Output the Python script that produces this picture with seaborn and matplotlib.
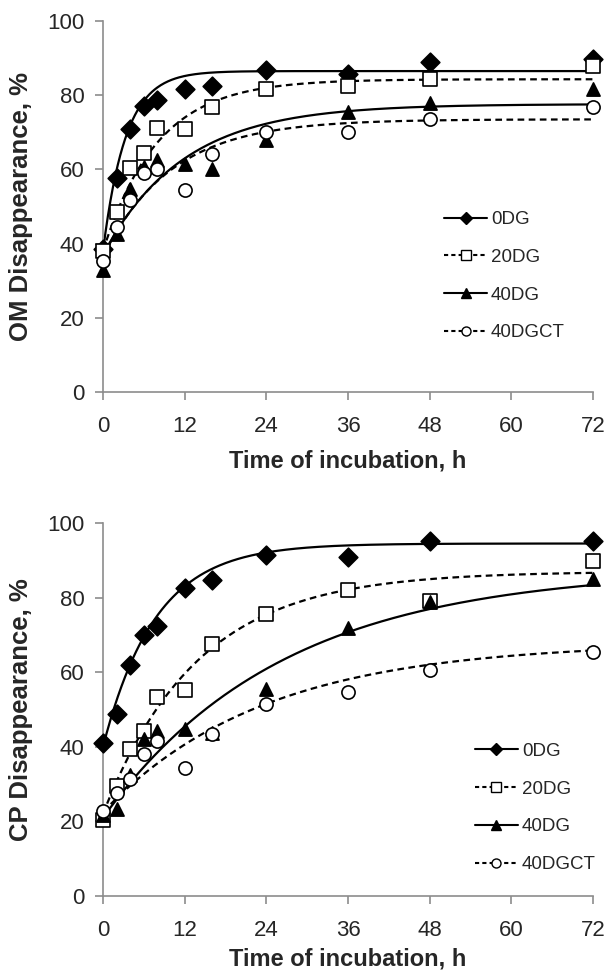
import numpy as np
import pandas as pd
import seaborn as sns
import matplotlib
matplotlib.use("Agg")
from matplotlib import pyplot as plt
from matplotlib.lines import Line2D

sns.set_style("white")
plt.rcParams["font.family"] = ["Liberation Sans", "DejaVu Sans"]

hours = [0, 2, 4, 6, 8, 12, 16, 24, 36, 48, 72]
groups = ["0DG", "20DG", "40DG", "40DGCT"]

# OM disappearance, %
om_0dg = [38.5, 57.7, 71.0, 77.0, 78.6, 81.8, 82.4, 86.7, 85.6, 89.0, 89.8]
om_20dg = [38.0, 48.5, 60.3, 64.4, 71.2, 71.0, 76.8, 81.7, 82.6, 84.3, 87.8]
om_40dg = [33.0, 42.5, 54.8, 60.6, 62.6, 61.4, 60.0, 68.0, 75.6, 78.0, 81.7]
om_40dgct = [35.3, 44.5, 51.7, 59.0, 60.0, 54.5, 64.2, 70.2, 70.0, 73.7, 76.8]

# CP disappearance, %
cp_0dg = [41.1, 48.7, 62.0, 70.0, 72.3, 82.5, 84.8, 91.4, 91.0, 95.2, 95.2]
cp_20dg = [20.4, 29.5, 39.5, 44.2, 53.4, 55.2, 67.6, 75.6, 82.1, 79.2, 89.9]
cp_40dg = [21.7, 23.4, 32.4, 42.2, 44.2, 44.8, 43.6, 55.5, 71.8, 78.7, 84.9]
cp_40dgct = [22.8, 27.7, 31.3, 38.0, 41.5, 34.4, 43.3, 51.6, 54.6, 60.5, 65.3]

# fitted curve parameters p = a + b(1 - exp(-c t))
om_a = [38.0, 38.0, 37.0, 36.5]
om_b = [48.5, 46.3, 40.6, 37.0]
om_c = [0.30, 0.125, 0.085, 0.10]
cp_a = [40.0, 22.0, 21.0, 22.5]
cp_b = [54.5, 65.0, 66.7, 45.5]
cp_c = [0.13, 0.072, 0.038, 0.0423]

markers = ["D", "s", "^", "o"]
fills = ["black", "white", "black", "white"]
styles = ["-", (0, (3, 2)), "-", (0, (3, 2))]

W, H = 608, 976
fig = plt.figure(figsize=(W / 100, H / 100), dpi=100)
ax1 = fig.add_axes([103 / W, (H - 392) / H, 490 / W, 371 / H])
ax2 = fig.add_axes([103 / W, (H - 896) / H, 490 / W, 373 / H])

t_fit = np.linspace(0, 72, 400)


def draw(ax, series, a, b, c, ylabel, leg_xy):
    for i, g in enumerate(groups):
        fit = pd.DataFrame({"t": t_fit, "y": a[i] + b[i] * (1 - np.exp(-c[i] * t_fit))})
        sns.lineplot(data=fit, x="t", y="y", ax=ax, color="black", lw=1.6,
                     linestyle=styles[i], clip_on=False, zorder=2)
    for i, g in enumerate(groups):
        pts = pd.DataFrame({"t": hours, "y": series[i]})
        sns.scatterplot(data=pts, x="t", y="y", ax=ax, marker=markers[i], s=90,
                        color=fills[i], edgecolor="black", linewidth=1.2,
                        clip_on=False, zorder=3)
    ax.set_xlim(0, 72)
    ax.set_ylim(0, 100)
    ax.set_xticks(range(0, 73, 12))
    ax.set_yticks(range(0, 101, 20))
    for side in ["top", "right"]:
        ax.spines[side].set_visible(False)
    for side in ["left", "bottom"]:
        ax.spines[side].set_color("#8c8c8c")
        ax.spines[side].set_linewidth(1.2)
    ax.tick_params(axis="both", which="both", direction="out", length=5.5,
                   width=1.2, color="#8c8c8c", labelsize=16,
                   bottom=True, left=True)
    ax.tick_params(axis="x", pad=11.5)
    ax.tick_params(axis="y", pad=8)
    ax.set_xlabel("Time of incubation, h", fontsize=17, fontweight="bold")
    ax.set_ylabel(ylabel, fontsize=18.5, fontweight="bold")
    ax.yaxis.set_label_coords(-0.143, 0.5)

    handles = [Line2D([], [], color="black", linestyle="-" if i % 2 == 0 else (0, (2, 1.5)),
                      lw=1.5, marker=markers[i], markersize=6.5,
                      markerfacecolor=fills[i], markeredgecolor="black", markeredgewidth=1)
               for i in range(4)]
    ax.legend(handles, groups, loc="upper left", bbox_to_anchor=leg_xy, frameon=False,
              fontsize=13.5, handlelength=2.3, handletextpad=0.2, labelspacing=1.1,
              borderpad=0, borderaxespad=0)


draw(ax1, [om_0dg, om_20dg, om_40dg, om_40dgct], om_a, om_b, om_c,
     "OM Disappearance, %", (0.696, 0.488))
draw(ax2, [cp_0dg, cp_20dg, cp_40dg, cp_40dgct], cp_a, cp_b, cp_c,
     "CP Disappearance, %", (0.759, 0.411))
ax1.xaxis.set_label_coords(0.5, -0.154)
ax2.xaxis.set_label_coords(0.5, -0.139)

fig.savefig("out.png", dpi=100)
